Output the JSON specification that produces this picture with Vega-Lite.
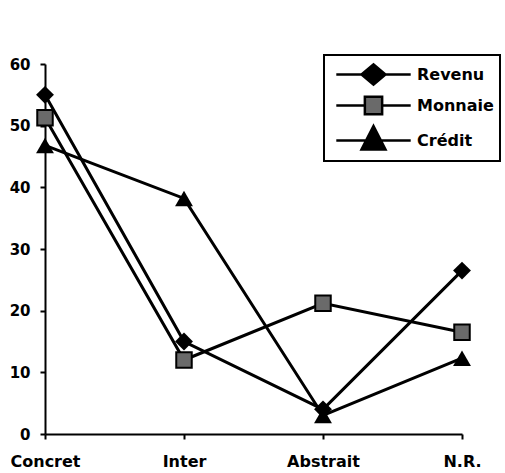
{
  "$schema": "https://vega.github.io/schema/vega-lite/v6.json",
  "width": 417,
  "height": 370,
  "autosize": {"type": "none"},
  "padding": {"left": 45, "top": 64, "right": 43, "bottom": 39},
  "background": "white",
  "config": {"view": {"stroke": null}, "font": "DejaVu Sans", "legend": {"strokeWidth": 2}},
  "data": {
    "values": [
      {"series": "Revenu", "level": "Concret", "pct": 55},
      {"series": "Revenu", "level": "Inter", "pct": 15},
      {"series": "Revenu", "level": "Abstrait", "pct": 4},
      {"series": "Revenu", "level": "N.R.", "pct": 26.5},
      {"series": "Monnaie", "level": "Concret", "pct": 51.3},
      {"series": "Monnaie", "level": "Inter", "pct": 12},
      {"series": "Monnaie", "level": "Abstrait", "pct": 21.2},
      {"series": "Monnaie", "level": "N.R.", "pct": 16.5},
      {"series": "Crédit", "level": "Concret", "pct": 46.8},
      {"series": "Crédit", "level": "Inter", "pct": 38.2},
      {"series": "Crédit", "level": "Abstrait", "pct": 3},
      {"series": "Crédit", "level": "N.R.", "pct": 12.3}
    ]
  },
  "encoding": {
    "x": {
      "field": "level",
      "type": "ordinal",
      "sort": ["Concret", "Inter", "Abstrait", "N.R."],
      "scale": {"type": "point", "padding": 0},
      "axis": {
        "title": null,
        "labelAngle": 0,
        "grid": false,
        "domainColor": "black",
        "domainWidth": 2,
        "tickColor": "black",
        "tickWidth": 2,
        "tickSize": 5,
        "labelFont": "DejaVu Sans",
        "labelFontSize": 16,
        "labelFontWeight": "bold",
        "labelColor": "black",
        "labelPadding": 14
      }
    },
    "y": {
      "field": "pct",
      "type": "quantitative",
      "scale": {"domain": [0, 60], "nice": false},
      "axis": {
        "title": null,
        "values": [0, 10, 20, 30, 40, 50, 60],
        "grid": false,
        "domainColor": "black",
        "domainWidth": 2,
        "tickColor": "black",
        "tickWidth": 2,
        "tickSize": 5,
        "labelFont": "DejaVu Sans",
        "labelFontSize": 15,
        "labelFontWeight": "bold",
        "labelColor": "black",
        "labelPadding": 10
      }
    }
  },
  "layer": [
    {
      "mark": {"type": "line", "color": "black", "strokeWidth": 3},
      "encoding": {"detail": {"field": "series"}}
    },
    {
      "transform": [{"filter": {"field": "series", "equal": "Revenu"}}],
      "mark": {"type": "point", "shape": "diamond", "filled": true, "color": "black", "opacity": 1, "size": 320}
    },
    {
      "transform": [{"filter": {"field": "series", "equal": "Monnaie"}}],
      "mark": {"type": "point", "shape": "square", "filled": true, "fill": "#6a6a6a", "stroke": "black", "strokeWidth": 2, "opacity": 1, "size": 240}
    },
    {
      "transform": [{"filter": {"field": "series", "equal": "Crédit"}}],
      "mark": {"type": "point", "shape": "triangle-up", "filled": true, "color": "black", "opacity": 1, "size": 320}
    },
    {
      "mark": {"type": "point", "filled": false, "color": "black", "strokeWidth": 2.5, "opacity": 0, "size": 576},
      "encoding": {
        "shape": {
          "field": "series",
          "type": "nominal",
          "scale": {
            "domain": ["Revenu", "Monnaie", "Crédit"],
            "range": [
              "M-3.1,0H3.1M-1,0L0,-0.85L1,0L0,0.85Z",
              "M-3.1,0H-0.72M0.72,0H3.1M-0.72,-0.72H0.72V0.72H-0.72Z",
              "M-3.1,0H3.1M0,-1.2L1,0.75H-1Z"
            ]
          },
          "legend": {
            "title": null,
            "orient": "none",
            "legendX": 279,
            "legendY": -9,
            "strokeColor": "black",
            "fillColor": "white",
            "padding": 6,
            "symbolSize": 576,
            "symbolOffset": 30,
            "labelOffset": 30,
            "rowPadding": 1,
            "symbolOpacity": 1,
            "symbolStrokeWidth": 2.5,
            "labelFont": "DejaVu Sans",
            "labelFontSize": 16,
            "labelFontWeight": "bold",
            "labelColor": "black",
            "encode": {
              "legend": {"strokeWidth": {"value": 2}},
              "symbols": {"stroke": {"value": "black"}, "strokeWidth": {"value": 2.5}}
            }
          }
        },
        "fill": {
          "field": "series",
          "type": "nominal",
          "scale": {"domain": ["Revenu", "Monnaie", "Crédit"], "range": ["black", "#6a6a6a", "black"]}
        }
      }
    }
  ]
}
